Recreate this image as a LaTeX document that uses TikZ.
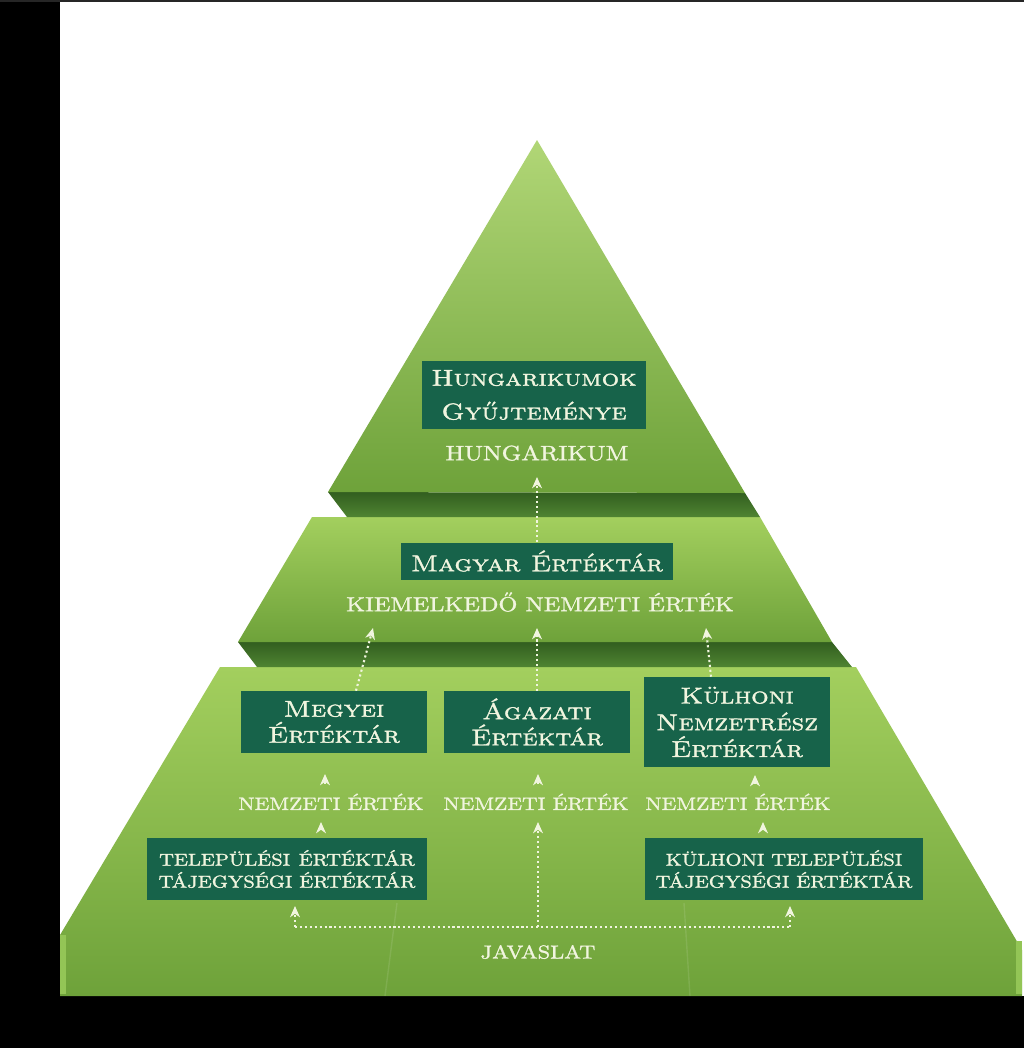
\documentclass[tikz,border=0pt]{standalone}
\usepackage{fontspec}
\setmainfont{lmroman10-regular.otf}[SmallCapsFont=lmromancaps10-regular.otf, FakeStretch=1.2, FakeBold=1.4]
\usetikzlibrary{arrows.meta, positioning}
\definecolor{cbox}{HTML}{17634A}
\definecolor{ctext}{HTML}{F1F5DF}
\definecolor{gtop}{HTML}{A3CF5E}
\definecolor{gbot}{HTML}{6EA23A}
\definecolor{gdark}{HTML}{325E1F}
\definecolor{gdarkb}{HTML}{4F8432}
\definecolor{gside}{HTML}{93C556}
\tikzset{
  box/.style={fill=cbox, text=ctext, align=center, inner sep=2pt, font=\scshape\fontsize{16.3}{18.5}\selectfont},
  smallbox/.style={box, font=\fontsize{12.2}{15.6}\selectfont},
  lab/.style={text=ctext, inner sep=1pt},
  flow/.style={draw=ctext, line width=1.5pt, dash pattern=on 1.5pt off 2pt, -{Stealth[length=8pt, width=7pt, inset=2.5pt]}},
  dots/.style={draw=ctext, line width=1.5pt, dash pattern=on 1.5pt off 2pt},
}
\begin{document}
\begin{tikzpicture}[x=0.025cm, y=-0.025cm]
  \useasboundingbox (0,0) rectangle (1024,1048);
  \fill[white] (0,0) rectangle (1024,1048);
  \fill[black] (0,0) rectangle (60,1048);
  \fill[black] (0,996) rectangle (1024,1048);
  \fill[black!85] (0,0) rectangle (1024,2);

  % pyramid, bottom tier first
  \shade[top color=gtop, bottom color=gbot] (220,667) -- (856,667) -- (1022,950) -- (1022,996) -- (60,996) -- (60,935) -- cycle;
  \fill[gside] (60,935) rectangle (66,994);
  \fill[gside] (1016,941) rectangle (1022,994);
  \draw[white, opacity=0.1, line width=1pt] (397,903) -- (385,996) (684,903) -- (690,996);
  \shade[top color=gdark, bottom color=gdarkb] (238,642) -- (832,642) -- (852,667) -- (257,667) -- cycle;
  \shade[top color=gtop, bottom color=gbot] (312,517) -- (760,517) -- (832,642) -- (238,642) -- cycle;
  \shade[top color=gdark, bottom color=gdarkb] (328,492) -- (745,493) -- (760,517) -- (347,517) -- cycle;
  \shade[top color=gtop!85!white, bottom color=gbot] (537,140) -- (745,493) -- (328,492) -- cycle;

  % value stores
  \node[box, minimum width=5.6cm, minimum height=1.675cm, font=\scshape\fontsize{16.3}{24}\selectfont] (hung) at (534,395) {Hungarikumok\\Gyűjteménye};
  \node[box, minimum width=6.8cm, minimum height=0.925cm] (magyar) at (537,561) {Magyar Értéktár};
  \node[box, minimum width=4.625cm, minimum height=1.55cm] (megyei) at (334,722) {Megyei\\Értéktár};
  \node[box, minimum width=4.625cm, minimum height=1.55cm] (agazati) at (537,722) {Ágazati\\Értéktár};
  \node[box, minimum width=4.625cm, minimum height=2.25cm, font=\scshape\fontsize{16.3}{19}\selectfont] (kulhoni) at (737,722) {Külhoni\\Nemzetrész\\Értéktár};
  \node[smallbox, minimum width=6.975cm, minimum height=1.55cm] (telep) at (287,869) {TELEPÜLÉSI\enspace ÉRTÉKTÁR\\TÁJEGYSÉGI ÉRTÉKTÁR};
  \node[smallbox, minimum width=6.95cm, minimum height=1.55cm] (ktelep) at (784,869) {KÜLHONI TELEPÜLÉSI\\TÁJEGYSÉGI ÉRTÉKTÁR};

  % levels
  \node[lab, font=\fontsize{14.8}{16}\selectfont] (lHung) at (537,453) {HUNGARIKUM};
  \node[lab, font=\fontsize{14.4}{16}\selectfont] (lKiem) at (540,602) {KIEMELKEDŐ NEMZETI ÉRTÉK};
  \node[lab, font=\fontsize{12.8}{14}\selectfont] (lN1) at (331,802) {NEMZETI ÉRTÉK};
  \node[lab, font=\fontsize{12.8}{14}\selectfont] (lN2) at (536,802) {NEMZETI ÉRTÉK};
  \node[lab, font=\fontsize{12.8}{14}\selectfont] (lN3) at (738,802) {NEMZETI ÉRTÉK};
  \node[lab, font=\fontsize{13.3}{14}\selectfont] (lJav) at (538,952) {JAVASLAT};

  % arrow tips
  \coordinate (t0) at (537,477);
  \coordinate (t1) at (373,628);
  \coordinate (t2) at (537,628);
  \coordinate (t3) at (706,628);
  \coordinate (u1) at (325,774);
  \coordinate (u2) at (538,774);
  \coordinate (u3) at (755,775);
  \coordinate (v1) at (321,822);
  \coordinate (v2) at (538,822);
  \coordinate (v3) at (763,822);
  \coordinate (w1) at (295,906);
  \coordinate (w2) at (790,906);
  \coordinate (jL) at (295,927);
  \coordinate (jM) at (538,927);
  \coordinate (jR) at (790,927);

  \draw[flow] (magyar.north) -- (t0);
  \draw[flow] ([xshift=0.55cm]megyei.north) -- (t1);
  \draw[flow] (agazati.north) -- (t2);
  \draw[flow] ([xshift=-0.65cm]kulhoni.north) -- (t3);
  \draw[flow, shorten <=0.2cm] (u1 |- lN1.north) -- (u1);
  \draw[flow, shorten <=0.2cm] (u2 |- lN2.north) -- (u2);
  \draw[flow, shorten <=0.2cm] (u3 |- lN3.north) -- (u3);
  \draw[flow, shorten <=0.25cm] (v1 |- telep.north) -- (v1);
  \draw[flow] (jM) -- (v2);
  \draw[flow, shorten <=0.25cm] (v3 |- ktelep.north) -- (v3);
  \draw[dots] (jL) -- (jR);
  \draw[flow] (jL) -- (w1);
  \draw[flow] (jR) -- (w2);
\end{tikzpicture}
\end{document}
